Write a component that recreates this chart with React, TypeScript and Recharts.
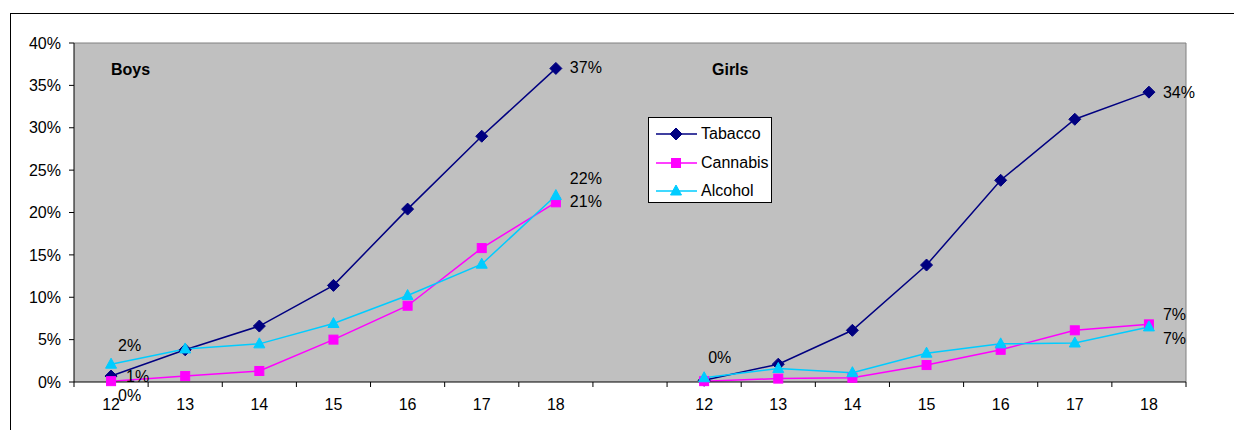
import React from "react";
import { LineChart, Line, XAxis, YAxis, CartesianGrid, Legend, LabelList } from "recharts";

// ages per panel, values in %
const boysAges = ["12", "13", "14", "15", "16", "17", "18"];
const girlsAges = ["12", "13", "14", "15", "16", "17", "18"];

const boysTabacco = [0.7, 3.8, 6.6, 11.4, 20.4, 29.0, 37.0];
const boysCannabis = [0.1, 0.7, 1.3, 5.0, 9.0, 15.8, 21.2];
const boysAlcohol = [2.1, 3.9, 4.5, 6.9, 10.2, 13.9, 22.0];

const girlsTabacco = [0.2, 2.1, 6.1, 13.8, 23.8, 31.0, 34.2];
const girlsCannabis = [0.1, 0.4, 0.5, 2.0, 3.8, 6.1, 6.8];
const girlsAlcohol = [0.5, 1.6, 1.1, 3.4, 4.5, 4.6, 6.5];

const yTicks = [0, 5, 10, 15, 20, 25, 30, 35, 40];

const data = [
  ...boysAges.map((age, i) => ({
    key: "b" + age,
    age,
    tabacco: boysTabacco[i],
    cannabis: boysCannabis[i],
    alcohol: boysAlcohol[i],
  })),
  { key: "gap", age: "", tabacco: null, cannabis: null, alcohol: null },
  ...girlsAges.map((age, i) => ({
    key: "g" + age,
    age,
    tabacco: girlsTabacco[i],
    cannabis: girlsCannabis[i],
    alcohol: girlsAlcohol[i],
  })),
];

const FONT = '"Liberation Sans", Arial, sans-serif';
const W = 1234;
const H = 430;
const PLOT_LEFT = 74;
const PLOT_RIGHT = 1186;
const BAND = (PLOT_RIGHT - PLOT_LEFT) / data.length;

// where the data labels go, relative to the point
const labelSpots: Record<string, Record<string, { dx: number; dy: number }>> = {
  tabacco: { b12: { dx: 15, dy: 0 }, b18: { dx: 14, dy: -1 }, g12: { dx: 4, dy: -23 }, g18: { dx: 14, dy: 0 } },
  cannabis: { b12: { dx: 7, dy: 14 }, b18: { dx: 14, dy: -1 }, g18: { dx: 14, dy: -10 } },
  alcohol: { b12: { dx: 7, dy: -19 }, b18: { dx: 14, dy: -17 }, g18: { dx: 14, dy: 11 } },
};

const Marker = ({ shape, cx, cy, color }: { shape: string; cx: number; cy: number; color: string }) => {
  if (shape === "diamond") {
    return <path d={`M${cx},${cy - 6}L${cx + 6},${cy}L${cx},${cy + 6}L${cx - 6},${cy}Z`} fill={color} stroke={color} />;
  }
  if (shape === "square") {
    return <rect x={cx - 4.5} y={cy - 4.5} width={9} height={9} fill={color} stroke={color} />;
  }
  return <path d={`M${cx},${cy - 6}L${cx + 5.5},${cy + 4}L${cx - 5.5},${cy + 4}Z`} fill={color} stroke={color} />;
};

const makeDot = (shape: string, color: string) => (props: any) => {
  const { cx, cy, index, value } = props;
  if (value == null || cx == null || cy == null) return <g key={`d-${shape}-${index}`} />;
  return (
    <g key={`d-${shape}-${index}`}>
      <Marker shape={shape} cx={cx} cy={cy} color={color} />
    </g>
  );
};

const makeLabel = (series: string) => (props: any) => {
  const { x, y, value, index } = props;
  const row = data[index];
  const spot = row && labelSpots[series][row.key];
  if (!spot || value == null) return null;
  return (
    <text x={x + spot.dx} y={y + spot.dy} dy="0.35em" fontSize={16} fontFamily={FONT} fill="#000">
      {Math.round(value)}%
    </text>
  );
};

const AgeTick = (props: any) => {
  const { x, y, payload, index } = props;
  const row = data.find((d) => d.key === payload.value);
  const last = index === data.length - 1;
  return (
    <g>
      <line x1={x - BAND / 2} x2={x - BAND / 2} y1={y} y2={y + 5} stroke="#000" />
      {last && <line x1={x + BAND / 2} x2={x + BAND / 2} y1={y} y2={y + 5} stroke="#000" />}
      <text x={x} y={y + 28} textAnchor="middle" fontSize={16} fontFamily={FONT} fill="#000">
        {row ? row.age : ""}
      </text>
    </g>
  );
};

const seriesOrder = ["Tabacco", "Cannabis", "Alcohol"];
const seriesStyle: Record<string, { shape: string; color: string }> = {
  Tabacco: { shape: "diamond", color: "#000080" },
  Cannabis: { shape: "square", color: "#FF00FF" },
  Alcohol: { shape: "triangle", color: "#00CCFF" },
};

const LegendBox = (props: any) => {
  const items = [...(props.payload || [])].sort(
    (a: any, b: any) => seriesOrder.indexOf(a.value) - seriesOrder.indexOf(b.value)
  );
  return (
    <div
      style={{
        width: 122,
        height: 84,
        border: "1px solid #000",
        background: "#fff",
        fontFamily: FONT,
        fontSize: 16,
        position: "relative",
      }}
    >
      {items.map((p: any, i: number) => {
        const st = seriesStyle[p.value];
        return (
          <div key={p.value} style={{ position: "absolute", left: 0, top: 3 + i * 28.5, height: 26, display: "flex", alignItems: "center" }}>
            <svg width={52} height={26} style={{ display: "block" }}>
              <line x1={7} x2={48} y1={13} y2={13} stroke={st.color} strokeWidth={1.5} />
              <Marker shape={st.shape} cx={27} cy={13} color={st.color} />
            </svg>
            <span style={{ color: "#000" }}>{p.value}</span>
          </div>
        );
      })}
    </div>
  );
};

export default function App() {
  return (
    <div style={{ position: "absolute", left: 0, top: 0, width: W, height: H, background: "#fff", overflow: "hidden" }}>
      <div style={{ position: "absolute", left: 10, top: 13, width: W, height: H, borderTop: "1px solid #000", borderLeft: "1px solid #000" }} />
      <LineChart width={W} height={H} data={data} margin={{ top: 43, right: W - PLOT_RIGHT, left: 0, bottom: 0 }}>
        <CartesianGrid
          fill="#C0C0C0"
          stroke="#808080"
          horizontalCoordinatesGenerator={({ offset }: any) => [offset.top]}
          verticalCoordinatesGenerator={({ offset }: any) => [offset.left + offset.width]}
        />
        <XAxis
          dataKey="key"
          type="category"
          height={48}
          interval={0}
          padding={{ left: BAND / 2, right: BAND / 2 }}
          tickLine={false}
          tickSize={0}
          tickMargin={0}
          axisLine={{ stroke: "#000" }}
          tick={<AgeTick />}
        />
        <YAxis
          width={PLOT_LEFT}
          domain={[0, 40]}
          ticks={yTicks}
          interval={0}
          tickFormatter={(v: number) => `${v}%`}
          tickSize={5}
          tickMargin={8}
          axisLine={{ stroke: "#000" }}
          tickLine={{ stroke: "#000" }}
          tick={{ fill: "#000", fontSize: 16, fontFamily: FONT }}
        />
        <Legend
          layout="vertical"
          align="center"
          verticalAlign="middle"
          wrapperStyle={{ left: 648, top: 117, width: 124 }}
          content={<LegendBox />}
        />
        <Line
          name="Tabacco"
          dataKey="tabacco"
          stroke="#000080"
          strokeWidth={1.5}
          dot={makeDot("diamond", "#000080")}
          activeDot={false}
          isAnimationActive={false}
        >
          <LabelList dataKey="tabacco" content={makeLabel("tabacco")} />
        </Line>
        <Line
          name="Cannabis"
          dataKey="cannabis"
          stroke="#FF00FF"
          strokeWidth={1.5}
          dot={makeDot("square", "#FF00FF")}
          activeDot={false}
          isAnimationActive={false}
        >
          <LabelList dataKey="cannabis" content={makeLabel("cannabis")} />
        </Line>
        <Line
          name="Alcohol"
          dataKey="alcohol"
          stroke="#00CCFF"
          strokeWidth={1.5}
          dot={makeDot("triangle", "#00CCFF")}
          activeDot={false}
          isAnimationActive={false}
        >
          <LabelList dataKey="alcohol" content={makeLabel("alcohol")} />
        </Line>
      </LineChart>
      <div style={{ position: "absolute", left: 111, top: 62, fontFamily: FONT, fontSize: 16, fontWeight: "bold", lineHeight: "16px" }}>Boys</div>
      <div style={{ position: "absolute", left: 712, top: 62, fontFamily: FONT, fontSize: 16, fontWeight: "bold", lineHeight: "16px" }}>Girls</div>
    </div>
  );
}
